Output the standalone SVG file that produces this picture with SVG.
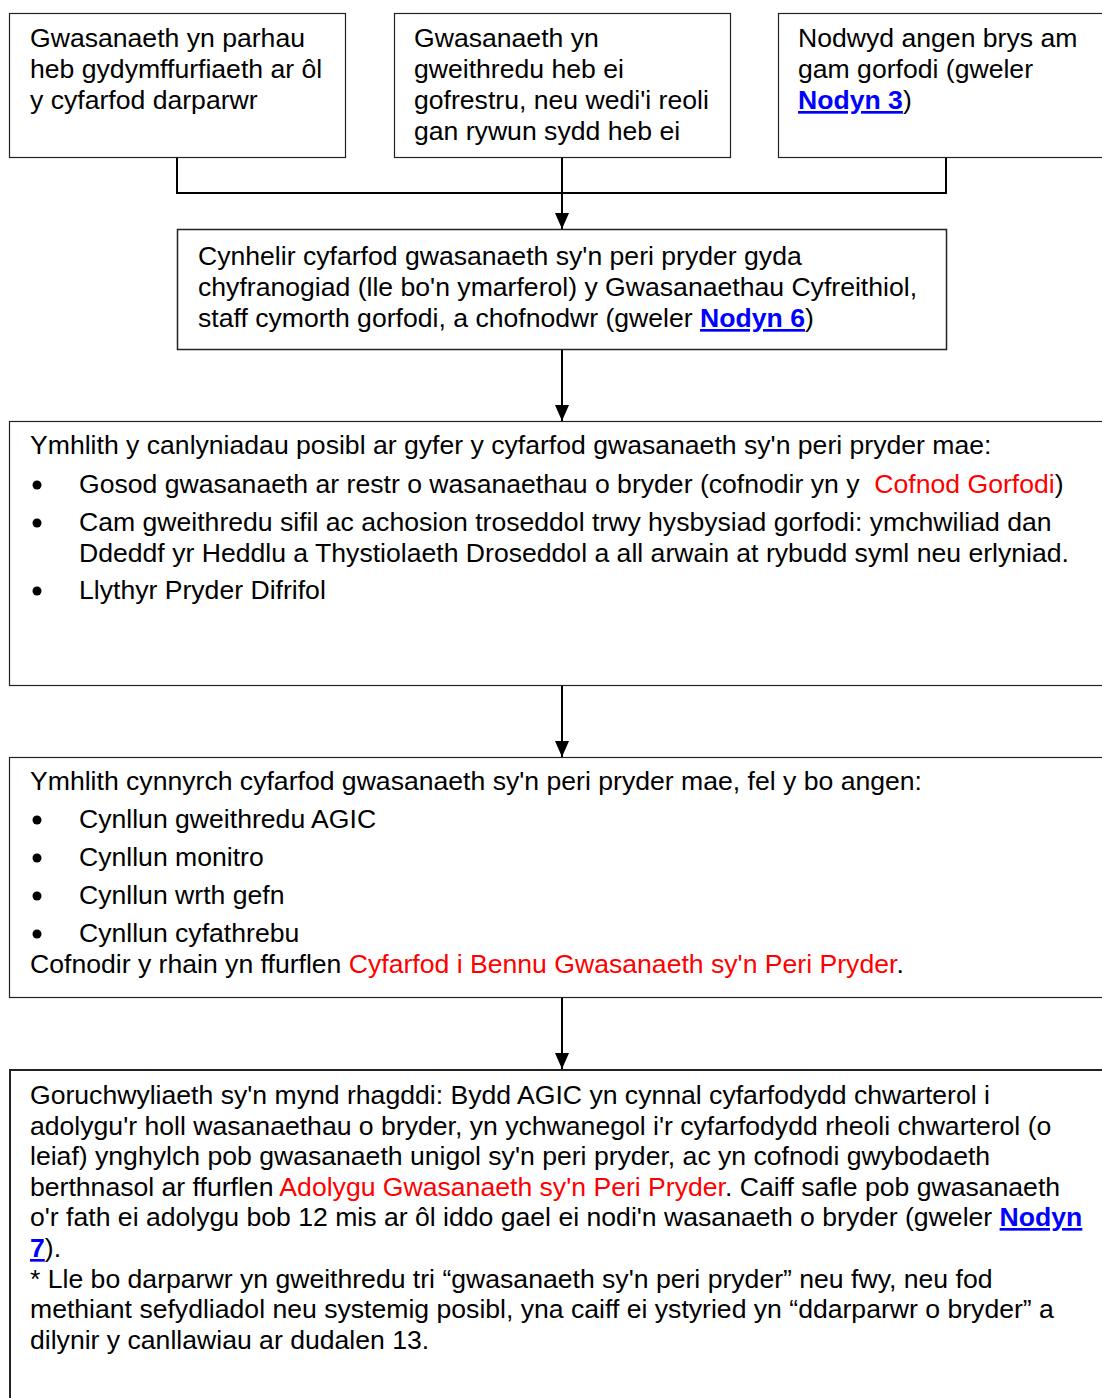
<svg xmlns="http://www.w3.org/2000/svg" width="1102" height="1398" viewBox="0 0 1102 1398">
<defs>
<style>
.box{fill:#fff;stroke:#222;stroke-width:1.2}
.t{font-family:"Liberation Sans",Arial,sans-serif;font-size:26.6px;fill:#000}
.red{fill:#ff0000}
.lnk{fill:#0000ff;font-weight:bold;text-decoration:underline}
.con{fill:none;stroke:#000;stroke-width:2}
</style>
<marker id="ah" markerWidth="16" markerHeight="14" refX="16" refY="7" orient="auto" markerUnits="userSpaceOnUse" viewBox="0 0 16 14">
<path d="M0,0 L16,7 L0,14 Z" fill="#000"/>
</marker>
</defs>
<rect width="1102" height="1398" fill="#fff"/>
<g id="connectors">
<path class="con" d="M177,157 V193 H946 V157"/>
<path class="con" d="M562,157 V229" marker-end="url(#ah)"/>
<path class="con" d="M562,349 V421" marker-end="url(#ah)"/>
<path class="con" d="M562,685 V757" marker-end="url(#ah)"/>
<path class="con" d="M562,997 V1069" marker-end="url(#ah)"/>
</g>
<g id="n1">
<rect class="box" x="9.5" y="13.5" width="336" height="144"/>
<text class="t" x="30" y="47">Gwasanaeth yn parhau</text>
<text class="t" x="30" y="78">heb gydymffurfiaeth ar ôl</text>
<text class="t" x="30" y="109">y cyfarfod darparwr</text>
</g>
<g id="n2">
<rect class="box" x="394.5" y="13.5" width="336" height="144"/>
<text class="t" x="414" y="47">Gwasanaeth yn</text>
<text class="t" x="414" y="78">gweithredu heb ei</text>
<text class="t" x="414" y="109">gofrestru, neu wedi'i reoli</text>
<text class="t" x="414" y="140">gan rywun sydd heb ei</text>
</g>
<g id="n3">
<rect class="box" x="778.5" y="13.5" width="336" height="144"/>
<text class="t" x="798" y="47">Nodwyd angen brys am</text>
<text class="t" x="798" y="78">gam gorfodi (gweler</text>
<text class="t" x="798" y="109"><tspan class="lnk">Nodyn 3</tspan>)</text>
</g>
<g id="n4">
<rect class="box" x="177.5" y="229.5" width="769" height="120" style="stroke-width:1.5"/>
<text class="t" x="198" y="265">Cynhelir cyfarfod gwasanaeth sy'n peri pryder gyda</text>
<text class="t" x="198" y="296">chyfranogiad (lle bo'n ymarferol) y Gwasanaethau Cyfreithiol,</text>
<text class="t" x="198" y="327">staff cymorth gorfodi, a chofnodwr (gweler <tspan class="lnk">Nodyn 6</tspan>)</text>
</g>
<g id="n5">
<rect class="box" x="9.5" y="421.5" width="1110" height="264"/>
<text class="t" x="30" y="454">Ymhlith y canlyniadau posibl ar gyfer y cyfarfod gwasanaeth sy'n peri pryder mae:</text>
<circle cx="37" cy="485" r="4.5"/>
<text class="t" x="79" y="493">Gosod gwasanaeth ar restr o wasanaethau o bryder (cofnodir yn y&#160; <tspan class="red">Cofnod Gorfodi</tspan>)</text>
<circle cx="37" cy="523" r="4.5"/>
<text class="t" x="79" y="531">Cam gweithredu sifil ac achosion troseddol trwy hysbysiad gorfodi: ymchwiliad dan</text>
<text class="t" x="79" y="562">Ddeddf yr Heddlu a Thystiolaeth Droseddol a all arwain at rybudd syml neu erlyniad.</text>
<circle cx="37" cy="591" r="4.5"/>
<text class="t" x="79" y="599">Llythyr Pryder Difrifol</text>
</g>
<g id="n6">
<rect class="box" x="9.5" y="757.5" width="1110" height="240"/>
<text class="t" x="30" y="790">Ymhlith cynnyrch cyfarfod gwasanaeth sy'n peri pryder mae, fel y bo angen:</text>
<circle cx="37" cy="820" r="4.5"/>
<text class="t" x="79" y="828">Cynllun gweithredu AGIC</text>
<circle cx="37" cy="858" r="4.5"/>
<text class="t" x="79" y="866">Cynllun monitro</text>
<circle cx="37" cy="896" r="4.5"/>
<text class="t" x="79" y="904">Cynllun wrth gefn</text>
<circle cx="37" cy="934" r="4.5"/>
<text class="t" x="79" y="942">Cynllun cyfathrebu</text>
<text class="t" x="30" y="973">Cofnodir y rhain yn ffurflen <tspan class="red">Cyfarfod i Bennu Gwasanaeth sy'n Peri Pryder</tspan>.</text>
</g>
<g id="n7">
<rect class="box" x="10" y="1070" width="1110" height="340" style="stroke-width:2"/>
<text class="t" x="30" y="1104">Goruchwyliaeth sy'n mynd rhagddi: Bydd AGIC yn cynnal cyfarfodydd chwarterol i</text>
<text class="t" x="30" y="1135">adolygu'r holl wasanaethau o bryder, yn ychwanegol i'r cyfarfodydd rheoli chwarterol (o</text>
<text class="t" x="30" y="1165">leiaf) ynghylch pob gwasanaeth unigol sy'n peri pryder, ac yn cofnodi gwybodaeth</text>
<text class="t" x="30" y="1196">berthnasol ar ffurflen <tspan class="red">Adolygu Gwasanaeth sy'n Peri Pryder</tspan>. Caiff safle pob gwasanaeth</text>
<text class="t" x="30" y="1226">o'r fath ei adolygu bob 12 mis ar ôl iddo gael ei nodi'n wasanaeth o bryder (gweler <tspan class="lnk">Nodyn</tspan></text>
<text class="t" x="30" y="1257"><tspan class="lnk">7</tspan>).</text>
<text class="t" x="30" y="1288">* Lle bo darparwr yn gweithredu tri “gwasanaeth sy'n peri pryder” neu fwy, neu fod</text>
<text class="t" x="30" y="1318">methiant sefydliadol neu systemig posibl, yna caiff ei ystyried yn “ddarparwr o bryder” a</text>
<text class="t" x="30" y="1349">dilynir y canllawiau ar dudalen 13.</text>
</g>
</svg>
